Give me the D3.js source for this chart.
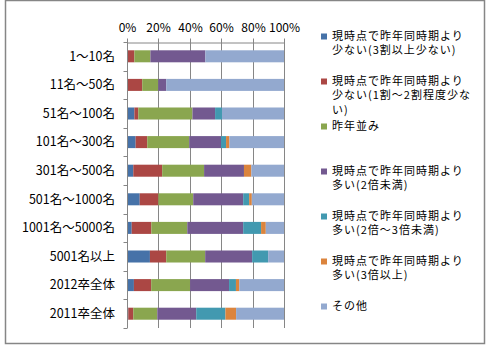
<!DOCTYPE html>
<html><head><meta charset="utf-8">
<script src="https://cdn.jsdelivr.net/npm/d3@7"></script>
<style>
html,body{margin:0;padding:0;background:#fff;}
text{font-family:"Noto Sans CJK JP","Noto Sans",sans-serif;fill:#000;}
</style></head>
<body>
<svg id="c" width="490" height="345"></svg>
<script>
const categories = ["1～10名","11名～50名","51名～100名","101名～300名","301名～500名","501名～1000名","1001名～5000名","5001名以上","2012卒全体","2011卒全体"];
const seriesNames = [
  ["現時点で昨年同時期より","少ない(3割以上少ない)"],
  ["現時点で昨年同時期より","少ない(1割～2割程度少な","い)"],
  ["昨年並み"],
  ["現時点で昨年同時期より","多い(2倍未満)"],
  ["現時点で昨年同時期より","多い(2倍～3倍未満)"],
  ["現時点で昨年同時期より","多い(3倍以上)"],
  ["その他"]
];
const colors = ["#4672A8","#AB4744","#8AA64F","#735990","#4299B0","#DB843D","#93A9CF"];
// values per series (percent), one per category
const s1 = [0, 0, 4.7, 5.5, 4.0, 8.1, 3.0, 14.6, 4.4, 0.8];
const s2 = [4.7, 9.7, 2.5, 7.4, 18.4, 11.9, 12.5, 10.4, 11.0, 3.2];
const s3 = [10.2, 10.2, 34.5, 26.7, 26.7, 22.2, 22.9, 24.8, 24.8, 15.3];
const s4 = [35.0, 5.1, 14.4, 20.3, 25.4, 31.8, 35.6, 29.9, 24.8, 24.8];
const s5 = [0, 0, 4.4, 3.2, 0, 3.8, 11.4, 10.2, 4.4, 18.6];
const s6 = [0, 0, 0, 2.1, 4.7, 1.7, 3.0, 0, 2.1, 6.8];
const s7 = [50.1, 75.0, 39.5, 34.8, 20.8, 20.5, 11.6, 10.1, 28.5, 30.5];
const tickValues = [0, 0.2, 0.4, 0.6, 0.8, 1.0];

(function(){
const series = [s1,s2,s3,s4,s5,s6,s7];
const svg = d3.select("#c");

svg.append("rect").attr("x",5.5).attr("y",0.5).attr("width",479).attr("height",343)
  .attr("fill","none").attr("stroke","#868686").attr("stroke-width",1.5);

const pl = 127, pr = 284, pt = 42, pb = 328;
const x = d3.scaleLinear().domain([0,1]).range([pl,pr]);
const y = d3.scaleBand().domain(categories).range([pt,pb]).paddingInner(0.58).paddingOuter(0.29);
const yb = d3.scaleBand().domain(categories).range([pt,pb]);

svg.append("g").selectAll("line").data(tickValues.slice(1)).join("line")
  .attr("x1",d=>Math.round(x(d))+0.5).attr("x2",d=>Math.round(x(d))+0.5)
  .attr("y1",pt).attr("y2",pb).attr("stroke","#868686").attr("stroke-width",1);

const rows = categories.map((c,i)=>{
  const vals = series.map(s=>s[i]);
  const tot = d3.sum(vals);
  return {c, vals: vals.map(v=>v/tot)};
});
rows.forEach(r=>{
  let acc = 0;
  r.vals.forEach((v,k)=>{
    if(v>0){
      svg.append("rect").attr("x",x(acc)).attr("width",x(acc+v)-x(acc))
        .attr("y",y(r.c)).attr("height",y.bandwidth()).attr("fill",colors[k]);
    }
    acc += v;
  });
});

const ax = d3.axisTop(x).tickValues(tickValues).tickFormat(d3.format(".0%")).tickSizeInner(4).tickSizeOuter(0).tickPadding(5);
const gx = svg.append("g").attr("transform",`translate(0,${pt+0.5})`).call(ax);
gx.select(".domain").attr("stroke","#868686");
gx.selectAll(".tick line").attr("stroke","#868686");
gx.selectAll(".tick text").attr("font-size","12px").attr("fill","#000")
  .attr("font-family",'"DejaVu Sans Mono","Liberation Mono",monospace').attr("dy","-0.1em");
gx.selectAll(".tick").attr("transform",d=>`translate(${Math.round(x(d))+0.5},0)`);

const gy = svg.append("g").attr("transform",`translate(${pl+0.5},0)`);
gy.append("line").attr("x1",0).attr("x2",0).attr("y1",pt).attr("y2",pb).attr("stroke","#868686");
const bounds = categories.map(c=>yb(c)).concat([pb]);
gy.selectAll("line.t").data(bounds).join("line").attr("class","t")
  .attr("x1",-4).attr("x2",0).attr("y1",d=>Math.round(d)+0.5).attr("y2",d=>Math.round(d)+0.5).attr("stroke","#868686");
svg.append("g").selectAll("text").data(categories).join("text")
  .attr("x",115).attr("y",d=>yb(d)+yb.bandwidth()/2+1).attr("text-anchor","end")
  .attr("dominant-baseline","middle").attr("font-size","12.5px").text(d=>d);

const lg = svg.append("g");
seriesNames.forEach((lines,k)=>{
  const cy = 37 + k*45;
  lg.append("rect").attr("x",321).attr("y",cy-3.5).attr("width",6).attr("height",6).attr("fill",colors[k]);
  lines.forEach((ln,j)=>{
    lg.append("text").attr("x",332).attr("y",cy + j*14.5).attr("dominant-baseline","middle")
      .attr("font-size","11px").attr("letter-spacing","1px").text(ln);
  });
});
})();
</script>
</body></html>
